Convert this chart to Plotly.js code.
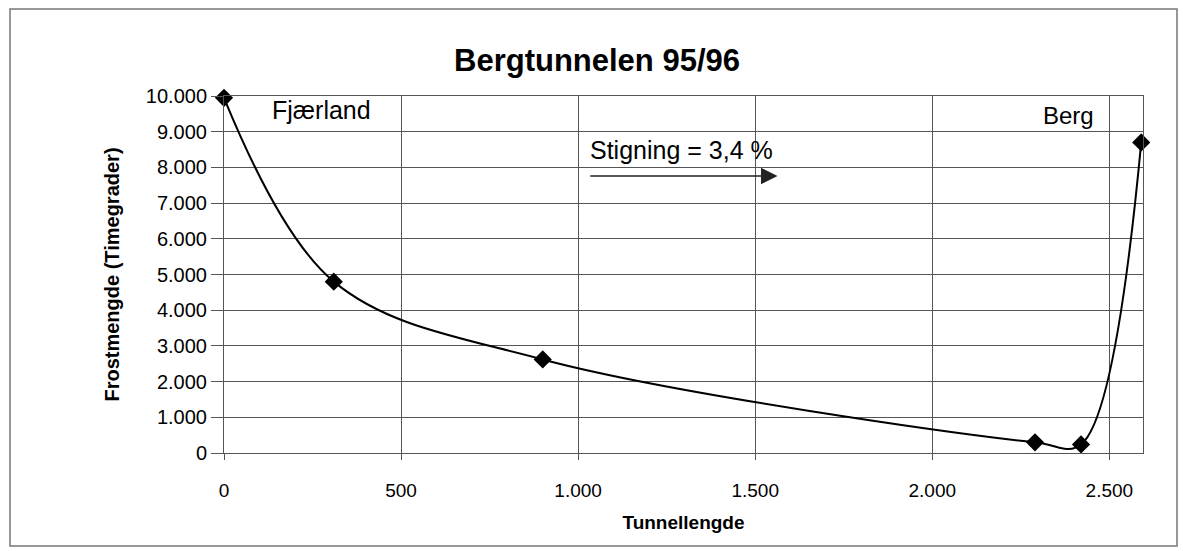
<!DOCTYPE html>
<html>
<head>
<meta charset="utf-8">
<script src="https://cdn.plot.ly/plotly-3.0.1.min.js"></script>
<style>html,body{margin:0;padding:0;background:#fff;}#chart{width:1183px;height:551px;}</style>
</head>
<body>
<div id="chart"></div>
<script>
// Data
const tunnelLength = [0, 310, 900, 2290, 2420, 2590];
const frostAmount = [9950, 4800, 2620, 300, 240, 8700];
const xTicks = [0, 500, 1000, 1500, 2000, 2500];
const yTicks = [0, 1000, 2000, 3000, 4000, 5000, 6000, 7000, 8000, 9000, 10000];
const labelFjaerland = {x: 130, y: 9620, text: 'Fjærland'};
const labelBerg = {x: 2308, y: 9450, text: 'Berg'};
const labelSlope = {x: 1027, y: 8500, text: 'Stigning = 3,4 %'};
const slopeArrow = {x0: 1030, x1: 1563, y: 7760};

const FONT = 'Liberation Sans, Arial, sans-serif';
const GRID = '#555';

const trace = {
  x: tunnelLength,
  y: frostAmount,
  type: 'scatter',
  mode: 'lines+markers',
  line: {color: '#000', width: 2, shape: 'spline', smoothing: 1},
  marker: {symbol: 'diamond', size: 14, color: '#000'},
  cliponaxis: false,
  hoverinfo: 'x+y'
};

const layout = {
  width: 1183,
  height: 551,
  margin: {l: 224, r: 40, t: 96, b: 98},
  paper_bgcolor: '#fff',
  plot_bgcolor: '#fff',
  separators: ',.',
  showlegend: false,
  font: {family: FONT, color: '#000', size: 20},
  title: {
    text: '<b>Bergtunnelen 95/96</b>',
    font: {family: FONT, size: 31, color: '#000'},
    x: 597 / 1183, xref: 'container', xanchor: 'center',
    y: 1 - 60 / 551, yref: 'container', yanchor: 'middle'
  },
  xaxis: {
    range: [0, 2595],
    tickvals: xTicks,
    tickformat: ',d',
    ticks: 'outside', ticklen: 6, tickcolor: GRID, tickwidth: 1,
    ticklabelstandoff: 14,
    showgrid: true, gridcolor: GRID, gridwidth: 1,
    showline: true, linecolor: GRID, linewidth: 1, mirror: true,
    zeroline: false,
    tickfont: {family: FONT, size: 19, color: '#000'},
    title: {text: '<b>Tunnellengde</b>', font: {family: FONT, size: 19, color: '#000'}, standoff: 15}
  },
  yaxis: {
    range: [0, 10000],
    tickvals: yTicks,
    tickformat: ',d',
    ticks: 'outside', ticklen: 12, tickcolor: GRID, tickwidth: 1,
    showgrid: true, gridcolor: GRID, gridwidth: 1,
    showline: true, linecolor: GRID, linewidth: 1, mirror: true,
    zeroline: false,
    tickfont: {family: FONT, size: 20, color: '#000'},
    title: {text: '<b>Frostmengde (Timegrader)</b>', font: {family: FONT, size: 20, color: '#000'}, standoff: 20}
  },
  annotations: [
    {x: labelFjaerland.x, y: labelFjaerland.y, text: labelFjaerland.text, xref: 'x', yref: 'y',
     xanchor: 'left', yanchor: 'middle', showarrow: false, font: {family: FONT, size: 25, color: '#000'}},
    {x: labelBerg.x, y: labelBerg.y, text: labelBerg.text, xref: 'x', yref: 'y',
     xanchor: 'left', yanchor: 'middle', showarrow: false, font: {family: FONT, size: 24, color: '#000'}},
    {x: labelSlope.x, y: labelSlope.y, text: labelSlope.text, xref: 'x', yref: 'y',
     xanchor: 'left', yanchor: 'middle', showarrow: false, font: {family: FONT, size: 25, color: '#000'}},
    {x: slopeArrow.x1, y: slopeArrow.y, ax: slopeArrow.x0, ay: slopeArrow.y,
     xref: 'x', yref: 'y', axref: 'x', ayref: 'y', text: '', showarrow: true,
     arrowhead: 2, arrowsize: 2.2, arrowwidth: 1.5, arrowcolor: '#222', standoff: 0}
  ],
  shapes: [
    {type: 'rect', xref: 'paper', yref: 'paper',
     x0: (10 - 224) / 919, x1: (1177 - 224) / 919,
     y0: (453 - 546) / 357, y1: (453 - 9) / 357,
     line: {color: '#777', width: 1.5}, fillcolor: 'rgba(0,0,0,0)', layer: 'below'}
  ]
};

Plotly.newPlot('chart', [trace], layout, {displayModeBar: false, staticPlot: true});
</script>
</body>
</html>
